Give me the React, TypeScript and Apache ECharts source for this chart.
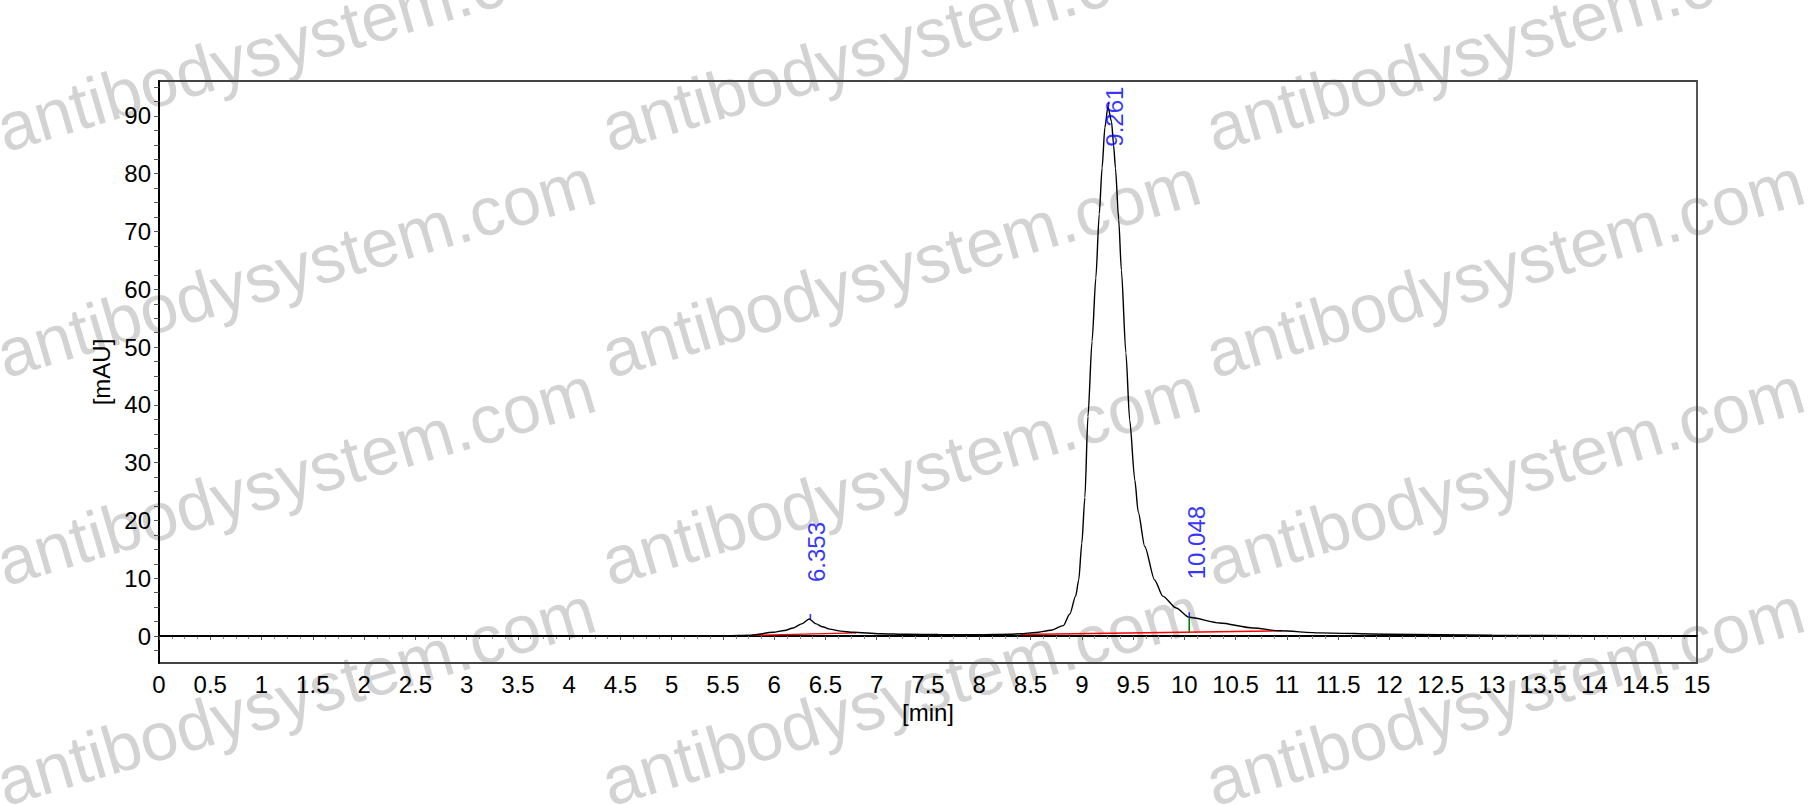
import { useEffect, useRef } from 'react';
import * as echarts from 'echarts';

// chromatogram trace (retention time [min] / absorbance [mAU])
const signalTime = [
  0, 1, 2, 3, 4, 5, 5.5, 5.78, 5.99, 6.1, 6.186, 6.267, 6.341, 6.41, 6.47, 6.54, 6.65, 6.77,
  7.03, 7.3, 7.6, 8.0, 8.3, 8.4, 8.55, 8.7, 8.82, 8.883, 8.94, 8.97, 9.0, 9.03, 9.06, 9.1,
  9.137, 9.17, 9.198, 9.225, 9.255, 9.29, 9.31, 9.328, 9.36, 9.386, 9.43, 9.467, 9.517, 9.55,
  9.614, 9.71, 9.79, 9.92, 10.048, 10.345, 10.67, 10.93, 11.32, 12, 13, 14, 15,
];
const signalValue = [
  0, 0, 0, 0, 0, 0, 0.05, 0.15, 0.64, 0.95, 1.4, 2.1, 2.94, 2.1, 1.6, 1.2, 0.85, 0.64,
  0.4, 0.3, 0.25, 0.22, 0.3, 0.4, 0.6, 1.0, 1.8, 3.8, 6.9, 9.7, 16, 24, 38, 51,
  62, 73, 81, 88, 91.6, 89, 85, 81, 72, 63.3, 49, 37.4, 27, 21.5,
  15.5, 9.7, 6.9, 4.85, 3.24, 2.26, 1.4, 0.9, 0.55, 0.3, 0.15, 0.05, 0,
];

// integration baselines
const baseline1Time = [5.78, 6.8];
const baseline1Value = [0.12, 0.55];
const baseline2Time = [8.4, 10.95];
const baseline2Value = [0.25, 0.9];

// peaks
const peakTime = [6.353, 9.261, 10.048];
const peakValue = [2.94, 91.6, 3.24];
const peakLabel = ['6.353', '9.261', '10.048'];

// drop line between main peak and shoulder
const dropTime = [10.048, 10.048];
const dropValue = [0.72, 3.24];

const yLabelValues = [0, 10, 20, 30, 40, 50, 60, 70, 80, 90];
const yTickValues = [
  -2.5, 0, 2.5, 5, 7.5, 10, 12.5, 15, 17.5, 20, 22.5, 25, 27.5, 30, 32.5, 35, 37.5, 40, 42.5,
  45, 47.5, 50, 52.5, 55, 57.5, 60, 62.5, 65, 67.5, 70, 72.5, 75, 77.5, 80, 82.5, 85, 87.5,
  90, 92.5, 95,
];

const WATERMARK = 'antibodysystem.com';
const wmCols = [8, 613, 1217];
const wmRows = [162, 388, 596, 816];

const FONT = "'Liberation Sans', Arial, sans-serif";

export default function App() {
  const chartRef = useRef<HTMLDivElement>(null);

  useEffect(() => {
    if (!chartRef.current) return;
    const chart = echarts.init(chartRef.current, undefined, { renderer: 'svg' });

    const zip = (xs: number[], ys: number[]) => xs.map((x, i) => [x, ys[i]]);

    const watermarks: any[] = [];
    wmRows.forEach((y) =>
      wmCols.forEach((x) =>
        watermarks.push({
          type: 'text',
          x,
          y,
          rotation: (16.5 * Math.PI) / 180,
          z: -10,
          silent: true,
          style: {
            text: WATERMARK,
            font: `68px ${FONT}`,
            fill: '#d3d3d3',
            textAlign: 'left',
            textVerticalAlign: 'bottom',
          },
        })
      )
    );

    // offsets are in the rotated label frame: [along text, across text]
    const labelOffsets: number[][] = [[37, -6], [-40, -6], [38, -5]];

    chart.setOption({
      animation: false,
      backgroundColor: '#fff',
      textStyle: { fontFamily: FONT },
      graphic: { elements: watermarks },
      grid: {
        left: 159,
        right: 115,
        top: 81,
        bottom: 142,
        show: true,
        borderColor: '#444',
        borderWidth: 1.8,
        backgroundColor: 'transparent',
      },
      xAxis: {
        type: 'value',
        min: 0,
        max: 15,
        interval: 0.5,
        name: '[min]',
        nameLocation: 'middle',
        nameGap: 37,
        nameTextStyle: { color: '#000', fontSize: 24, fontFamily: FONT },
        axisLine: { lineStyle: { color: '#000', width: 2 } },
        axisTick: { show: true, length: 4, lineStyle: { color: '#555' } },
        minorTick: { show: true, splitNumber: 4, length: 3, lineStyle: { color: '#888' } },
        axisLabel: { color: '#000', fontSize: 24, margin: 9, fontFamily: FONT },
        splitLine: { show: false },
      },
      yAxis: {
        type: 'value',
        min: -4.67,
        max: 96.05,
        splitNumber: 10,
        name: '[mAU]',
        nameLocation: 'middle',
        nameRotate: 90,
        nameGap: 40,
        nameTextStyle: { color: '#000', fontSize: 24, fontFamily: FONT },
        axisLine: { lineStyle: { color: '#000', width: 2 } },
        axisTick: { show: true, length: 5, customValues: yTickValues, lineStyle: { color: '#555' } },
        axisLabel: {
          color: '#000',
          fontSize: 24,
          margin: 8,
          fontFamily: FONT,
          customValues: yLabelValues,
        },
        splitLine: { show: false },
      },
      series: [
        {
          name: 'baseline1',
          type: 'line',
          data: zip(baseline1Time, baseline1Value),
          showSymbol: false,
          symbol: 'none',
          lineStyle: { color: '#ff0000', width: 1.4 },
          z: 3,
        },
        {
          name: 'baseline2',
          type: 'line',
          data: zip(baseline2Time, baseline2Value),
          showSymbol: false,
          symbol: 'none',
          lineStyle: { color: '#ff0000', width: 1.4 },
          z: 3,
        },
        {
          name: 'signal',
          type: 'line',
          data: zip(signalTime, signalValue),
          showSymbol: false,
          symbol: 'none',
          smooth: 0.25,
          smoothMonotone: 'x',
          lineStyle: { color: '#000', width: 1.4 },
          z: 4,
        },
        {
          name: 'drop',
          type: 'line',
          data: zip(dropTime, dropValue),
          showSymbol: false,
          symbol: 'none',
          lineStyle: { color: '#008000', width: 1.6 },
          z: 5,
        },
        {
          name: 'apexTicks',
          type: 'scatter',
          data: zip(peakTime, peakValue),
          symbol: 'rect',
          symbolSize: [1.6, 5],
          symbolOffset: [0, -2.5],
          itemStyle: { color: '#0000ff' },
          z: 6,
        },
        {
          name: 'peakLabels',
          type: 'scatter',
          data: peakTime.map((t, i) => ({
            value: [t, peakValue[i]],
            name: peakLabel[i],
            label: { offset: labelOffsets[i] },
          })),
          symbolSize: 1,
          itemStyle: { color: 'rgba(0,0,0,0)' },
          label: {
            show: true,
            position: 'inside',
            rotate: 90,
            align: 'left',
            verticalAlign: 'top',
            color: '#0000ff',
            fontSize: 24,
            fontFamily: FONT,
            formatter: (p: any) => p.name,
          },
          z: 7,
        },
      ],
    });

    return () => {
      chart.dispose();
    };
  }, []);

  return (
    <div
      ref={chartRef}
      style={{ position: 'fixed', left: 0, top: 0, width: 1812, height: 805 }}
    />
  );
}
